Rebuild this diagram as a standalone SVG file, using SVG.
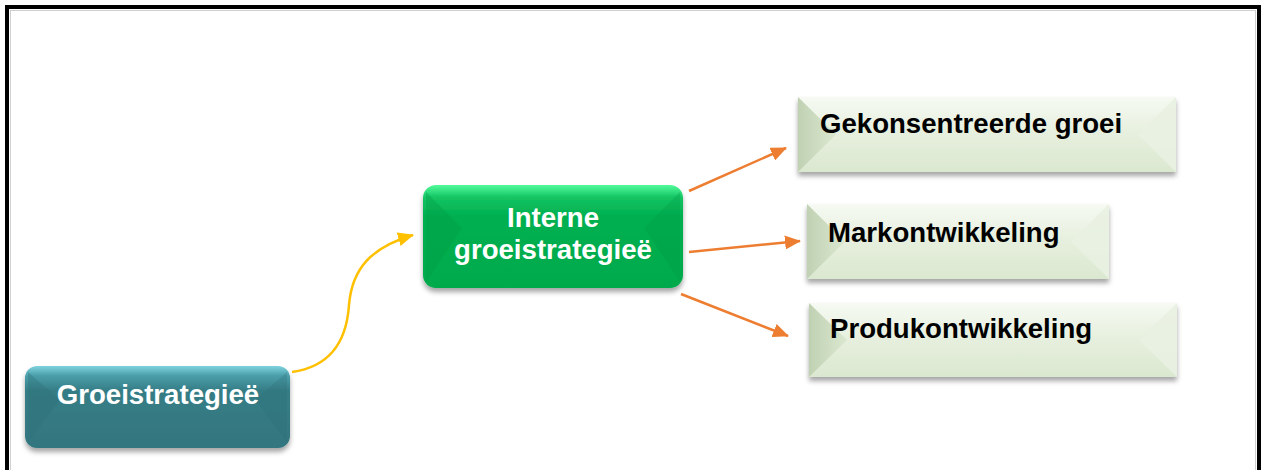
<svg xmlns="http://www.w3.org/2000/svg" width="1261" height="470" viewBox="0 0 1261 470">
  <defs>
    <style>
      .lbl { font-family: "Liberation Sans", Arial, sans-serif; font-weight: bold; font-size: 27.6px; }
      .white { fill: #ffffff; }
      .dark { fill: #000000; }
      .orange { fill: none; stroke: #ed7d31; stroke-width: 2.5; }
      .gold { fill: none; stroke: #ffc000; stroke-width: 2.5; }
      .bevel-l { fill: url(#paleLeft); }
      .bevel-r { fill: #e9f1e2; opacity: 0.9; }
    </style>
    <marker id="headOrange" markerUnits="userSpaceOnUse" markerWidth="16" markerHeight="14" refX="15" refY="7" orient="auto">
      <path d="M0,0 L16,7 L0,14 Z" fill="#ed7d31"/>
    </marker>
    <marker id="headGold" markerUnits="userSpaceOnUse" markerWidth="16" markerHeight="14" refX="15" refY="7" orient="auto">
      <path d="M0,0 L16,7 L0,14 Z" fill="#ffc000"/>
    </marker>
    <filter id="shadow" x="-10%" y="-20%" width="120%" height="150%">
      <feDropShadow dx="0" dy="4" stdDeviation="2.5" flood-color="#000" flood-opacity="0.35"/>
    </filter>
    <linearGradient id="tealFill" x1="0" y1="0" x2="0" y2="1">
      <stop offset="0" stop-color="#7fd3de"/>
      <stop offset="0.12" stop-color="#4a9ea9"/>
      <stop offset="0.3" stop-color="#367d86"/>
      <stop offset="1" stop-color="#33767f"/>
    </linearGradient>
    <linearGradient id="greenFill" x1="0" y1="0" x2="0" y2="1">
      <stop offset="0" stop-color="#52fb9a"/>
      <stop offset="0.12" stop-color="#14c463"/>
      <stop offset="0.3" stop-color="#00b050"/>
      <stop offset="1" stop-color="#00aa4c"/>
    </linearGradient>
    <linearGradient id="paleFill" x1="0" y1="0" x2="0" y2="1">
      <stop offset="0" stop-color="#f6faf3"/>
      <stop offset="0.5" stop-color="#e6efdd"/>
      <stop offset="1" stop-color="#dbe8d0"/>
    </linearGradient>
    <linearGradient id="paleLeft" x1="0" y1="0" x2="1" y2="0">
      <stop offset="0" stop-color="#c0d1b3"/>
      <stop offset="1" stop-color="#dbe8d0"/>
    </linearGradient>
  </defs>

  <!-- frame -->
  <rect x="7" y="7" width="1252" height="500" fill="#ffffff" stroke="#000000" stroke-width="4"/>
  <rect x="10.5" y="10.5" width="1245" height="500" fill="none" stroke="#d0d0d0" stroke-width="1"/>

  <!-- connectors -->
  <g id="connectors">
    <path class="gold" d="M292,372 C335,366 347,335 349,305 C352,268 372,247 413,235" marker-end="url(#headGold)"/>
    <path class="orange" d="M689,191 L786,148" marker-end="url(#headOrange)"/>
    <path class="orange" d="M689,252 L800,241" marker-end="url(#headOrange)"/>
    <path class="orange" d="M681,294 L788,336" marker-end="url(#headOrange)"/>
  </g>

  <!-- root node -->
  <g id="node-groeistrategiee">
    <rect x="25" y="366" width="265" height="82" rx="12" fill="url(#tealFill)" filter="url(#shadow)"/>
    <path d="M28,372 L60,400 L28,442 Z" fill="#2f6f78" opacity="0.35"/>
    <path d="M287,372 L255,400 L287,442 Z" fill="#2c6c75" opacity="0.25"/>
    <text class="lbl white" x="158" y="404" text-anchor="middle">Groeistrategieë</text>
  </g>

  <!-- middle node -->
  <g id="node-interne">
    <rect x="423" y="185" width="260" height="103" rx="13" fill="url(#greenFill)" filter="url(#shadow)"/>
    <path d="M426,192 L462,228 L426,282 Z" fill="#009a45" opacity="0.35"/>
    <path d="M680,192 L644,228 L680,282 Z" fill="#009a45" opacity="0.3"/>
    <text class="lbl white" x="553" y="227" text-anchor="middle">Interne</text>
    <text class="lbl white" x="553" y="259" text-anchor="middle">groeistrategieë</text>
  </g>

  <!-- leaf nodes -->
  <g id="node-gekonsentreerde">
    <rect x="798" y="97" width="378" height="75" fill="url(#paleFill)" filter="url(#shadow)"/>
    <path class="bevel-l" d="M798,97 L836,134.5 L798,172 Z"/>
    <path class="bevel-r" d="M1176,97 L1138,134.5 L1176,172 Z"/>
    <text class="lbl dark" x="820" y="133">Gekonsentreerde groei</text>
  </g>

  <g id="node-markontwikkeling">
    <rect x="807" y="204" width="302" height="75" fill="url(#paleFill)" filter="url(#shadow)"/>
    <path class="bevel-l" d="M807,204 L845,241.5 L807,279 Z"/>
    <path class="bevel-r" d="M1109,204 L1071,241.5 L1109,279 Z"/>
    <text class="lbl dark" x="828" y="242">Markontwikkeling</text>
  </g>

  <g id="node-produkontwikkeling">
    <rect x="809" y="303" width="368" height="74" fill="url(#paleFill)" filter="url(#shadow)"/>
    <path class="bevel-l" d="M809,303 L847,340 L809,377 Z"/>
    <path class="bevel-r" d="M1177,303 L1139,340 L1177,377 Z"/>
    <text class="lbl dark" x="830" y="338">Produkontwikkeling</text>
  </g>
</svg>
